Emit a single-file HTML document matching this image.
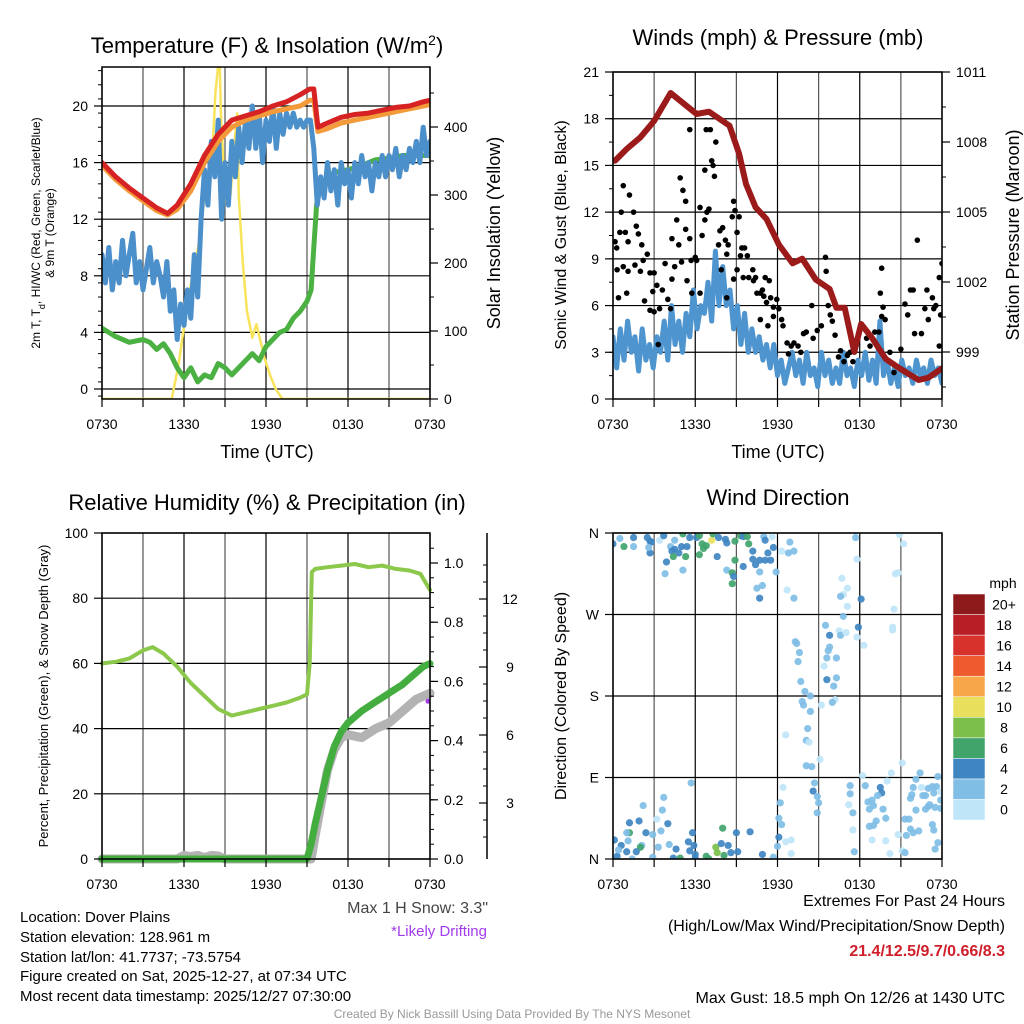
<!DOCTYPE html>
<html><head><meta charset="utf-8">
<style>
html,body{margin:0;padding:0;background:#fff;}
svg{display:block;font-family:"Liberation Sans",Arial,sans-serif;}
</style></head>
<body>
<svg id="chart" width="1024" height="1024" viewBox="0 0 1024 1024" xmlns="http://www.w3.org/2000/svg">
<rect width="1024" height="1024" fill="#fff"/>
<g id="layer"></g>
<text x="267" y="53" font-size="22" text-anchor="middle">Temperature (F) &amp; Insolation (W/m<tspan baseline-shift="super" font-size="14">2</tspan>)</text>
<text x="778" y="45" font-size="22" text-anchor="middle">Winds (mph) &amp; Pressure (mb)</text>
<text x="267" y="510" font-size="22" text-anchor="middle">Relative Humidity (%) &amp; Precipitation (in)</text>
<text x="778" y="505" font-size="22" text-anchor="middle">Wind Direction</text>
<text x="267" y="458" font-size="18" text-anchor="middle">Time (UTC)</text>
<text x="778" y="458" font-size="18" text-anchor="middle">Time (UTC)</text>
<text transform="translate(40,233) rotate(-90)" font-size="12" text-anchor="middle">2m T, T<tspan baseline-shift="sub" font-size="9">d</tspan>, HI/WC (Red, Green, Scarlet/Blue)</text>
<text transform="translate(54,233) rotate(-90)" font-size="12" text-anchor="middle">&amp; 9m T (Orange)</text>
<text transform="translate(500,233) rotate(-90)" font-size="18" text-anchor="middle">Solar Insolation (Yellow)</text>
<text transform="translate(566,235) rotate(-90)" font-size="16" text-anchor="middle">Sonic Wind &amp; Gust (Blue, Black)</text>
<text transform="translate(1019,235) rotate(-90)" font-size="18" text-anchor="middle">Station Pressure (Maroon)</text>
<text transform="translate(48,696) rotate(-90)" font-size="13" text-anchor="middle">Percent, Precipitation (Green), &amp; Snow Depth (Gray)</text>
<text transform="translate(566,696) rotate(-90)" font-size="16" text-anchor="middle">Direction (Colored By Speed)</text>
<text x="488" y="913" font-size="16" fill="#444" text-anchor="end">Max 1 H Snow: 3.3"</text>
<text x="487" y="936" font-size="15" fill="#a23bec" text-anchor="end">*Likely Drifting</text>
<g font-size="15">
<text x="20" y="922">Location: Dover Plains</text>
<text x="20" y="942">Station elevation: 128.961 m</text>
<text x="20" y="962">Station lat/lon: 41.7737; -73.5754</text>
<text x="20" y="981">Figure created on Sat, 2025-12-27, at 07:34 UTC</text>
<text x="20" y="1001">Most recent data timestamp: 2025/12/27 07:30:00</text>
</g>
<g font-size="16" text-anchor="end">
<text x="1005" y="906">Extremes For Past 24 Hours</text>
<text x="1005" y="931">(High/Low/Max Wind/Precipitation/Snow Depth)</text>
<text x="1005" y="956" fill="#d01f2a" font-weight="bold">21.4/12.5/9.7/0.66/8.3</text>
<text x="1005" y="1003">Max Gust: 18.5 mph On 12/26 at 1430 UTC</text>
</g>
<text x="512" y="1018" font-size="12" fill="#999" text-anchor="middle">Created By Nick Bassill Using Data Provided By The NYS Mesonet</text>
</svg>
<script>
// ---- Panel 1 data ----
const timeTicks = ["0730","1330","1930","0130","0730"];
const redTempH = [0,1,2,3,4,4.8,5.5,6.5,7.5,8.5,9.5,10.5,11.5,12.5,13.5,14.5,15.2,15.5,15.8,16.5,17.5,18.5,19.5,20.5,21.5,22.5,23.5,24];
const redTempV = [16,15,14.2,13.5,12.8,12.4,13,14.5,16.5,18,19,19.3,19.6,20,20.3,20.8,21.2,21.2,18.5,18.8,19.2,19.4,19.5,19.7,19.9,20,20.3,20.4];
const orangeTempV = [15.8,14.8,14,13.3,12.6,12.3,12.7,14,16,17.5,18.5,19,19.3,19.6,19.8,20,20.4,20.4,18.2,18.4,18.8,19,19.2,19.4,19.6,19.8,20,20.1];
const dewH = [0,1,2,3,3.5,4,4.5,5,5.5,6,6.5,7,7.5,8,8.5,9,9.5,10,10.5,11,11.5,12,12.5,13,13.5,14,14.5,15,15.3,15.5,15.7,16,17,18,19,20,21,22,23,24];
const dewV = [4.3,3.7,3.3,3.5,3.3,2.8,3.2,2.5,1.5,0.8,1.5,0.5,1,0.8,1.8,1.5,1,1.5,2,2.5,2,3,3.5,4,4.2,5,5.5,6.2,7,10,13,14.5,15.3,15.5,15.8,16.2,16.3,16.5,16.5,16.5];
const windChillV = [9.5,7.5,10,7,9,7.5,10.5,8,9.5,11,7.5,9,7,8.5,10,7.5,9,8,6.5,9,5.5,7,3.5,6,4.5,7,5,9.5,6.5,12,15.5,13,17.5,15,19,12,16,13,17.5,15,18.5,16,19,17,20,17,19.5,16,19,17.5,20,17,19.5,18,19.5,18.5,19.5,18.5,19,18.5,19,19,17,13,15,13.5,16,14,15.5,13,16,14.5,15.5,13.5,16,14.5,16.5,15,16,14,16,15,16.5,15,16.5,15.5,17,15,16.5,15.5,17,16,17.5,16,18.5,16.5,17.5];
const solarH = [0,5.1,5.6,6.1,6.6,7.2,7.5,7.9,8.1,8.3,8.6,8.7,8.9,9.1,9.4,9.7,9.9,10.0,10.3,10.6,11.0,11.3,11.6,11.9,12.3,12.7,13.2,24];
const solarV = [0,0,50,120,180,240,300,350,370,450,510,420,340,290,300,380,420,300,200,130,90,110,85,60,35,15,0,0];
const tempTicks = [0,4,8,12,16,20];
const solarTicks = [0,100,200,300,400];
// ---- Panel 2 data ----
const pressH = [0.15,1,2,3,4.2,6.1,7.0,8.5,9.2,9.7,10.4,11.2,12.1,13.1,13.8,14.8,15.8,16.3,16.9,17.6,18.1,18.9,19.9,20.9,22.3,23.0,24];
const pressV = [1007.2,1007.7,1008.2,1008.9,1010.1,1009.2,1009.3,1008.7,1007.5,1006.2,1005.2,1004.7,1003.6,1002.8,1003.0,1002.1,1001.7,1000.9,1000.9,999.0,1000.2,999.6,998.7,998.3,997.8,997.9,998.3];
const windV = [4,2,4.5,2.5,5,3,4,1.8,4.5,2.5,3.5,2,4,3,5,2.5,6,3.5,5,3,5.5,4,7,4.5,6,5.5,7.5,5,9.5,6,8.5,6,7,4.5,6,3.5,5.5,3,4.5,3,4,2.5,3.5,2,3.5,1.5,2.5,1,2,3,1.5,2.5,1,3,1.5,2,0.8,3,1.5,2.5,1,2,1,3,1.5,2,0.8,2.5,1.5,3,1.2,2.5,1,5,1.5,2.5,1,2,0.8,2.5,1.5,2,1,2.5,1.5,2,1,2.5,1.5,2,1];
const gustH = [0.15,0.27,0.75,1.2,0.6,0.5,0.9,1.5,1.7,1.1,0.3,0.75,1.1,1.6,0.4,1.0,1.85,2.1,2.5,2.2,2.0,2.3,2.7,3.0,3.2,2.9,2.7,3.0,3.3,3.4,3.6,3.8,4.0,4.2,4.3,4.3,4.5,4.65,4.8,4.9,5.0,5.1,5.3,5.3,5.4,5.6,5.6,5.7,6.0,6.1,6.35,6.5,6.7,6.7,6.8,7.1,7.2,7.3,7.4,7.5,7.0,6.85,5.75,6.35,7.7,7.9,7.8,8.0,8.2,8.3,8.4,8.7,8.8,8.9,9.2,9.05,9.05,8.8,8.3,9.3,9.4,9.6,9.5,9.8,9.9,10.2,10.25,10.4,10.5,10.75,10.9,11.0,11.1,11.4,11.2,11.5,11.7,11.95,12.1,12.3,12.4,10.75,11.3,11.7,12.7,13.0,12.8,13.2,13.5,13.7,13.9,14.1,14.5,14.6,14.9,15.2,15.5,15.55,15.7,15.85,16.0,16.2,16.45,16.6,16.85,17.1,17.3,17.5,18.5,18.75,19.1,19.4,19.5,19.6,19.7,19.6,19.85,20.2,20.5,21.0,21.3,21.5,21.7,21.9,22.0,22.2,22.5,22.75,22.9,23.0,23.3,23.4,23.55,23.8,23.9,24.0,23.8];
const gustV = [10.1,9.7,13.7,13.1,12.0,10.7,10.7,12.0,11.1,10.1,8.3,8.5,8.2,8.6,6.5,6.8,10.6,9.9,9.3,8.9,8.2,6.3,8.1,8.1,7.3,6.9,5.7,5.6,3.5,5.8,7.0,8.7,6.4,5.8,10.3,7.7,8.5,11.5,9.9,14.2,8.8,13.4,12.7,10.9,7.6,10.3,17.3,8.9,9.1,8.9,12.3,10.5,11.5,14.7,17.3,17.3,15.3,15.0,14.3,16.5,12.2,12.0,6.8,6.8,9.9,8.3,10.8,11.0,10.2,9.3,9.9,11.7,12.7,12.1,11.7,10.7,8.3,7.7,6.5,9.2,9.7,9.7,7.8,9.2,7.8,8.3,7.6,7.8,6.8,6.8,7.0,6.6,7.8,7.6,6.2,6.5,5.9,6.4,5.8,5.1,4.7,5.1,4.7,5.3,3.6,3.4,2.9,3.6,3.4,3.0,4.2,4.3,6.0,3.9,4.4,4.7,9.1,8.2,6.0,5.4,5.0,4.1,2.7,3.1,2.4,2.8,3.0,2.4,3.9,3.4,4.3,4.3,6.8,8.4,5.9,5.3,5.1,3.0,1.7,3.2,6.1,5.4,7.0,7.0,4.2,10.2,4.2,5.8,7.0,5.1,6.5,5.8,6.0,7.8,5.4,8.7,3.4];
const windTicks = [0,3,6,9,12,15,18,21];
const pressTicks = [999,1002,1005,1008,1011];
// ---- Panel 3 data ----
const rhH = [0,1,2,3,3.7,4.5,5.5,6.5,7.5,8.5,9.5,10.5,11.5,12.5,13.5,14.5,15,15.2,15.35,15.6,16.5,17.5,18.5,19.5,20.5,21.5,22.5,23.3,24];
const rhV = [60,60.5,61.5,64,65,63,59,54,50,46,44,45,46,47,48,49.5,50.5,60,88,89,89.5,90,90.5,89.5,90,89,88.5,87.5,82.5];
const precipH = [0,15,15.3,15.6,16,16.5,17,17.5,18,19,20,21,22,23,23.5,24];
const precipV = [0,0,0.05,0.12,0.2,0.3,0.38,0.43,0.46,0.5,0.53,0.56,0.59,0.63,0.65,0.66];
const snowH = [0,5.5,6,6.5,7,7.5,8,8.5,9,15.3,15.6,16,16.5,17,17.5,18,19,20,21,22,23,24];
const snowV = [0,0,0.012,0.008,0.012,0.005,0.012,0.01,0,0,0.08,0.18,0.3,0.37,0.41,0.42,0.41,0.44,0.46,0.5,0.54,0.56];
const rhTicks = [0,20,40,60,80,100];
const precipTicks = [0,0.2,0.4,0.6,0.8,1.0];
const snowTicks = [3,6,9,12];
// ---- Panel 4 data: [hour, degrees, speed mph] ----
const dirObs = [[0.0,348,5],[0.5,354,3],[0.8,345,7],[1.5,355,5],[1.5,345,3],[2.5,355,5],[2.7,351,5],[2.8,350,5],[2.7,338,5],[2.6,344,3],[3.4,352,1],[3.7,357,5],[4.2,345,3],[4.3,340,5],[4.5,342,5],[4.8,338,5],[5.0,345,5],[5.4,345,5],[5.1,359,7],[4.5,352,3],[3.9,328,5],[4.4,334,7],[5.3,334,7],[3.8,315,3],[5.1,319,3],[5.6,355,5],[6.1,355,5],[6.3,357,7],[6.5,348,7],[6.6,343,7],[6.8,346,7],[6.3,336,7],[7.2,352,11],[7.3,359,7],[7.7,355,5],[8.2,353,5],[8.3,349,5],[7.6,334,5],[8.3,319,3],[8.7,316,7],[8.9,330,7],[8.8,312,5],[8.7,304,7],[8.9,351,7],[9.3,357,7],[9.5,356,5],[9.8,356,7],[9.9,348,7],[9.5,323,5],[10.2,331,5],[10.4,325,5],[10.2,340,5],[10.7,330,5],[11.1,330,5],[11.5,330,5],[10.7,317,3],[10.5,299,3],[10.9,302,3],[10.7,288,5],[11.0,356,3],[11.1,352,5],[11.3,338,5],[11.6,356,1],[11.7,344,5],[11.9,317,3],[12.3,340,1],[12.9,350,3],[12.8,338,3],[13.2,340,3],[12.7,297,1],[13.2,288,3],
[17.7,355,3],[17.8,331,1],[16.7,310,1],[17.1,299,1],[16.8,292,1],[16.6,290,3],[17.1,279,1],[18.1,287,5],[16.8,268,3],[15.5,258,3],[15.8,247,5],[16.5,252,1],[16.6,247,3],[17.0,250,1],[17.9,256,5],[17.8,245,1],[18.3,236,1],[13.3,240,3],[13.4,238,3],[13.6,228,3],[13.5,218,3],[15.8,234,3],[15.7,230,3],[15.6,222,3],[16.3,222,3],[15.4,213,1],[16.3,200,3],[15.6,198,5],[16.1,191,3],[16.2,176,1],[16.0,173,3],[15.2,170,1],[13.7,196,3],[14.0,185,3],[14.4,180,3],[13.8,174,3],[13.9,170,3],[14.4,163,3],[14.2,144,3],[12.6,137,1],[14.1,131,3],[14.3,129,1],[15.1,110,1],[14.1,103,3],[14.5,102,3],[20.9,358,1],[21.2,348,1],[20.6,315,1],[20.8,316,1],[20.5,276,1],[20.4,256,1],[20.4,253,1],[21.1,106,1],
[5.7,84,3],[3.7,68,3],[2.2,59,3],[3.6,54,3],[3.2,44,1],[4.0,39,5],[1.2,40,5],[1.9,42,5],[1.2,29,7],[1.0,29,3],[2.4,29,5],[2.9,27,3],[3.5,31,3],[0.1,21,5],[0.6,15,5],[1.1,20,3],[2.1,15,3],[2.0,13,7],[1.7,8,5],[1.0,8,5],[0.3,3,5],[0.4,10,3],[1.4,0,3],[2.9,2,3],[3.3,13,3],[4.1,16,3],[4.6,11,5],[4.4,1,5],[4.9,1,7],[5.5,19,5],[5.8,29,5],[5.9,15,5],[5.6,9,5],[6.0,5,5],[6.0,1,5],[6.8,3,7],[7.0,0,7],[7.5,13,9],[7.6,7,9],[8.0,34,7],[7.9,17,5],[8.1,4,7],[8.4,15,5],[8.6,7,5],[9.0,29,5],[9.1,8,5],[10.0,30,5],[10.9,5,5],[11.7,2,3],[12.1,24,5],[12.0,14,3],[12.6,19,1],[13.0,21,1],[13.0,6,1],[12.4,79,1],[12.2,62,3],[12.1,45,3],[12.3,38,3],[14.7,84,3],[14.6,75,5],[14.9,69,3],[15.0,62,3],[14.9,51,3],[17.3,81,3],[17.3,72,3],[17.2,60,1],[17.5,51,3],[17.5,32,1],[17.6,8,3],[18.2,92,1],[18.4,81,3],[18.6,63,3],[18.7,55,3],[18.9,65,3],[19.0,59,3],[19.5,79,5],[19.6,73,5],[19.3,70,3],[19.7,55,3],[19.9,45,3],[19.2,42,3],[19.0,37,3],[18.7,36,3],[18.9,21,1],[19.9,20,1],[20.2,6,1],[20.3,95,1],[20.0,86,1],[20.8,27,1],[21.1,9,1],[21.3,7,3],[21.3,44,3],[21.6,44,3],[21.7,33,3],[21.4,26,3],[21.9,29,3],[22.3,31,3],[22.1,54,3],[21.7,67,3],[21.8,71,3],[21.9,79,3],[22.1,88,3],[22.4,95,3],[22.5,79,1],[22.6,70,3],[22.8,70,3],[23.0,78,3],[23.3,80,3],[23.4,73,3],[23.6,80,3],[23.7,91,3],[23.1,60,3],[22.8,55,3],[23.0,58,3],[23.5,57,3],[23.9,65,3],[23.9,56,3],[23.3,38,3],[23.4,32,3],[23.7,18,3],[23.5,11,3],[23.9,74,1]];
const dirTickLabels = ["N","E","S","W","N"];
const speedLevels = ["0","2","4","6","8","10","12","14","16","18","20+"];
const speedColors = ["#bfe6f8","#80bee6","#3f85c2","#40a46b","#7cc04a","#e8df5c","#f7a649","#ee5b2c","#d8322c","#b81e25","#8c1a1b"];

const NS="http://www.w3.org/2000/svg";
const layer=document.getElementById('layer');
function mk(tag,attrs,parent){const e=document.createElementNS(NS,tag);for(const k in attrs)e.setAttribute(k,attrs[k]);(parent||layer).appendChild(e);return e;}
function lin(d0,d1,r0,r1){return v=>r0+(v-d0)*(r1-r0)/(d1-d0);}
function pathOf(xs,ys,fx,fy){let d='';for(let i=0;i<xs.length;i++)d+=(i?'L':'M')+fx(xs[i]).toFixed(1)+','+fy(ys[i]).toFixed(1);return d;}
function series(xs,ys,fx,fy,color,w,name,parent){
  const p=mk('path',{d:pathOf(xs,ys,fx,fy),fill:'none',stroke:color,'stroke-width':w,'stroke-linejoin':'round','stroke-linecap':'round'},parent);
  
  
  return p;
}
function frame(x0,x1,y0,y1,name,clipId){
  const g=mk('g',{});
  
  
  const cp=mk('clipPath',{id:clipId},g);mk('rect',{x:x0,y:y0,width:x1-x0,height:y1-y0},cp);
  for(let i=0;i<=8;i++){const x=x0+(x1-x0)*i/8;mk('line',{x1:x,x2:x,y1:y0,y2:y1,stroke:i%2?'#555':'#000','stroke-width':1.2},g);}
  return g;
}
function hgrid(g,x0,x1,ys){ys.forEach(y=>mk('line',{x1:x0,x2:x1,y1:y,y2:y,stroke:'#000','stroke-width':1.2},g));}
function border(x0,x1,y0,y1,name){const r=mk('rect',{x:x0,y:y0,width:x1-x0,height:y1-y0,fill:'none',stroke:'#000','stroke-width':1.5});
  
  }
function xTicks(x0,x1,yb){timeTicks.forEach((t,i)=>{const x=x0+(x1-x0)*i/4;const tx=mk('text',{x:x,y:yb+30,'font-size':14,'text-anchor':'middle'});tx.textContent=t;
  
  
  });for(let i=0;i<=8;i++){const x=x0+(x1-x0)*i/8;mk('line',{x1:x,x2:x,y1:yb,y2:yb+8,stroke:'#000','stroke-width':1.2});}}
function yTicks(vals,fy,x,side,fmt,minorStep,lo,hi,labelX,anchor){
  vals.forEach(v=>{const y=fy(v);mk('line',{x1:x,x2:x+side*8,y1:y,y2:y,stroke:'#000','stroke-width':1.2});
    const t=mk('text',{x:labelX!==undefined?labelX:x+side*14,y:y+5,'font-size':14,'text-anchor':anchor||(side<0?'end':'start')});t.textContent=fmt(v);
    
    });
  if(minorStep){for(let v=lo;v<=hi+1e-9;v+=minorStep){const y=fy(v);mk('line',{x1:x,x2:x+side*4,y1:y,y2:y,stroke:'#000','stroke-width':1});}}
}
const hrs=n=>Array.from({length:n},(_,i)=>24*i/(n-1));

// ===== Panel 1 =====
{const x0=102,x1=430,y0=67,y1=399;
 const fx=lin(0,24,x0,x1),fy=lin(0,20,389,106),fs=lin(0,400,399,127);
 const g=frame(x0,x1,y0,y1,'temperature-panel','c1');hgrid(g,x0,x1,tempTicks.map(fy));
 const cg=mk('g',{'clip-path':'url(#c1)'});
 series(solarH,solarV,fx,fs,'#f7e35c',2.5,'insolation-line',cg);
 series(dewH,dewV,fx,fy,'#4cb143',5,'dewpoint-line',cg);
 series(hrs(windChillV.length),windChillV,fx,fy,'#4b8fcb',5,'windchill-line',cg);
 series(redTempH,orangeTempV,fx,fy,'#f39a3b',5,'temp-9m-line',cg);
 series(redTempH,redTempV,fx,fy,'#d62222',5,'temp-2m-line',cg);
 border(x0,x1,y0,y1,'temperature-plot-border');xTicks(x0,x1,y1);
 yTicks(tempTicks,fy,x0,-1,v=>v,1,-0.5,22.5);yTicks(solarTicks,fs,x1,1,v=>v,50,0,450);}

// ===== Panel 2 =====
{const x0=613,x1=942,y0=72,y1=399;
 const fx=lin(0,24,x0,x1),fy=lin(0,21,399,72),fp=lin(999,1011,352,72);
 const g=frame(x0,x1,y0,y1,'wind-panel','c2');hgrid(g,x0,x1,windTicks.slice(1).map(fy));
 const cg=mk('g',{'clip-path':'url(#c2)'});
 series(hrs(windV.length),windV,fx,fy,'#4e94cf',5,'sonic-wind-line',cg);
 gustH.forEach((h,i)=>{const c=mk('circle',{cx:fx(h),cy:fy(gustV[i]),r:2.8,fill:'#000'},cg);
   
   });
 series(pressH,pressV,fx,fp,'#9b1b1b',6,'pressure-line',cg);
 border(x0,x1,y0,y1,'wind-plot-border');xTicks(x0,x1,y1);
 yTicks(windTicks,fy,x0,-1,v=>v,1.5,0,21);yTicks(pressTicks,fp,x1,1,v=>v,1.5,997.5,1010);}

// ===== Panel 3 =====
{const x0=102,x1=430,y0=533,y1=859;
 const fx=lin(0,24,x0,x1),fy=lin(0,100,859,533),fpr=lin(0,1,859,563),fsn=lin(0,3,871,803);
 const g=frame(x0,x1,y0,y1,'humidity-panel','c3');hgrid(g,x0,x1,rhTicks.map(fy));
 const cg=mk('g',{});
 series(snowH,snowV,fx,fpr,'#b3b3b3',9,'snow-depth-line',cg);
 series(precipH,precipV,fx,fpr,'#43ad3f',7,'precip-line',cg);
 series(rhH,rhV,fx,fy,'#8cc84b',4,'rh-line',cg);
 const pd=mk('circle',{cx:fx(24)-2,cy:fpr(snowV[snowV.length-1])+8,r:2.5,fill:'#a23bec'});
 
 
 border(x0,x1,y0,y1,'humidity-plot-border');xTicks(x0,x1,y1);
 yTicks(rhTicks,fy,x0,-1,v=>v,0,0,0);
 yTicks(precipTicks,fpr,x1,1,v=>v.toFixed(1),0.05,0,1.05);
 mk('line',{x1:487,x2:487,y1:533,y2:859,stroke:'#000','stroke-width':1.5});
 yTicks(snowTicks,fsn,487,-1,v=>v,0.75,1.5,14,510,'middle');}

// ===== Panel 4 =====
{const x0=613,x1=942,y0=533,y1=859;
 const fx=lin(0,24,x0,x1),fd=lin(0,360,859,533);
 const g=frame(x0,x1,y0,y1,'direction-panel','c4');hgrid(g,x0,x1,[0,90,180,270,360].map(fd));
 const cg=mk('g',{'clip-path':'url(#c4)'});
 dirObs.forEach(o=>{const idx=Math.min(10,Math.max(0,Math.floor(o[2]/2)));
   const c=mk('circle',{cx:fx(o[0]),cy:fd(o[1]),r:3.6,fill:speedColors[idx],'fill-opacity':0.92},cg);
   
   });
 border(x0,x1,y0,y1,'direction-plot-border');xTicks(x0,x1,y1);
 dirTickLabels.forEach((l,i)=>{const y=fd(i*90);mk('line',{x1:x0,x2:x0-8,y1:y,y2:y,stroke:'#000','stroke-width':1.2});
   const t=mk('text',{x:x0-14,y:y+5,'font-size':14,'text-anchor':'end'});t.textContent=l;
   
   });
 const cb=mk('g',{});
 
 
 const t0=mk('text',{x:1003,y:588,'font-size':14,'text-anchor':'middle'},cb);t0.textContent='mph';
 const bh=(820-594)/speedLevels.length;
 speedLevels.forEach((l,i)=>{const y=820-(i+1)*bh;mk('rect',{x:953,y:y,width:32,height:bh,fill:speedColors[i],stroke:'#fff','stroke-width':0.5},cb);
   const t=mk('text',{x:1004,y:y+bh/2+5,'font-size':14,'text-anchor':'middle'},cb);t.textContent=l;});
}
</script>
</body></html>
